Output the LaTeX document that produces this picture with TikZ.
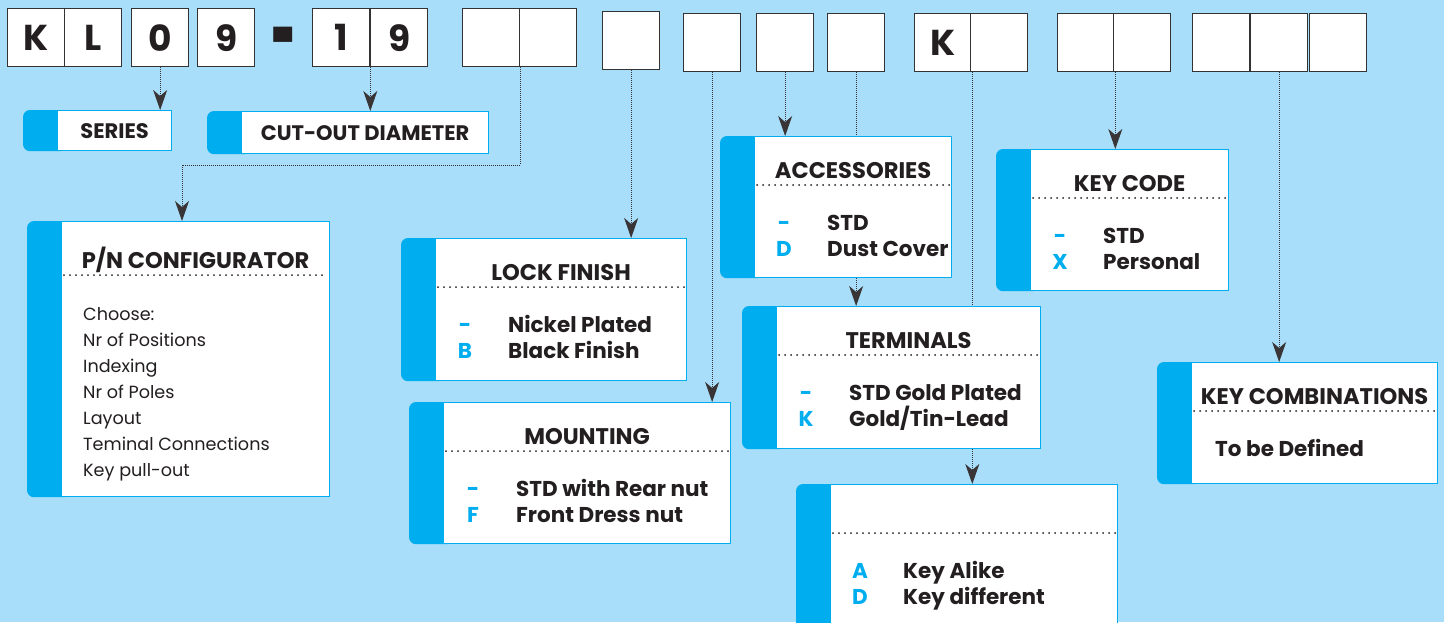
\documentclass[tikz,border=0pt]{standalone}
\usepackage{fontspec}
\setmainfont{Poppins}
\usetikzlibrary{arrows.meta,positioning,calc,backgrounds}
\definecolor{skyback}{HTML}{A8DEF9}
\definecolor{keyblue}{HTML}{00AEEF}
\definecolor{inkdark}{HTML}{231F20}
\begin{document}
\begin{tikzpicture}[x=1pt, y=-1pt, >={Stealth[length=20pt,width=14pt,inset=6pt]},
  every node/.style={font=\bfseries\fontsize{21.5}{26}\selectfont, text=inkdark, inner sep=0pt},
  cell/.style={draw=black!80, line width=1.3pt, fill=white, anchor=north west, minimum width=57pt, minimum height=58pt, font=\bfseries\fontsize{36}{36}\selectfont},
  panel/.style={draw=keyblue, line width=1.2pt, fill=white, anchor=north west},
  title/.style={anchor=base, font=\bfseries\fontsize{22.6}{26}\selectfont},
  tag/.style={font=\bfseries\fontsize{21}{26}\selectfont},
  code/.style={anchor=base, text=keyblue},
  choice/.style={anchor=base west},
  plain/.style={anchor=base west, font=\fontsize{17.6}{22}\selectfont},
  dots/.style={draw=inkdark, line width=2pt, line cap=round, dash pattern=on 0pt off 6pt},
  link/.style={draw=inkdark!90, line width=1pt, densely dotted},
  linkarrow/.style={link, ->}]
\useasboundingbox (0,0) rectangle (1444,622);
% part number cells
\foreach \n/\x/\y/\t in {1/7/8/K, 2/64/8/L, 3/131/8/0, 4/197/8/9, 5/312/8/1, 6/370/8/9, 7/462/8/, 8/519/8/, 9/602/11/, 10/683/13/, 11/756/13/, 12/827/13/, 13/914/13/K, 14/970/13/, 15/1057/13/, 16/1113/13/, 17/1192/13/, 18/1250/13/, 19/1309/13/}
  \node[cell] (c\n) at (\x,\y) {\t};
\node (dash) at (284,50) {\scalebox{2}[5]{-}};
% option panels
\node[panel, minimum width=114pt, minimum height=40pt, tag] (series) at (57,110) {SERIES};
\node[panel, minimum width=247pt, minimum height=42pt, tag] (cutout) at (241,111) {CUT-OUT DIAMETER};
\node[panel, minimum width=268pt, minimum height=275pt] (pncfg) at (61,221) {};
\node[panel, minimum width=251pt, minimum height=142pt] (lock) at (435,238) {};
\node[panel, minimum width=287pt, minimum height=141pt] (mount) at (443,402) {};
\node[panel, minimum width=197pt, minimum height=141pt] (acc) at (754,136) {};
\node[panel, minimum width=264pt, minimum height=142pt] (term) at (776,306) {};
\node[panel, minimum width=287pt, minimum height=150pt] (alike) at (830,484) {};
\node[panel, minimum width=198pt, minimum height=141pt] (keycode) at (1030,149) {};
\node[panel, minimum width=246pt, minimum height=121pt] (combo) at (1191,362) {};
% titles and dotted rules
\node[title] (pncfg-t) at ($(pncfg.north)+(0,47)$) {P/N CONFIGURATOR};
\foreach \p/\t in {lock/LOCK FINISH, mount/MOUNTING, acc/ACCESSORIES, term/TERMINALS, keycode/KEY CODE, combo/KEY COMBINATIONS}
  \node[title] (\p-t) at ($(\p.north)+(0,42)$) {\t};
\draw[dots] ($(pncfg.north west)+(3,54)$) -- ($(pncfg.north east)+(-3,54)$);
\foreach \p in {lock, mount, acc, term, alike, keycode, combo}
  \draw[dots] ($(\p.north west)+(3,49)$) -- ($(\p.north east)+(-3,49)$);
% panel contents
\foreach \t [count=\k] in {Choose:, Nr of Positions, Indexing, Nr of Poles, Layout, Teminal Connections, Key pull-out}
  \node[plain] (pncfg-\k) at ($(pncfg.north west)+(22,{99+26.1*(\k-1)})$) {\t};
\foreach \p/\a/\b/\c/\d in {lock/-/Nickel Plated/B/Black Finish, mount/-/STD with Rear nut/F/Front Dress nut, acc/-/STD/D/Dust Cover, term/-/STD Gold Plated/K/{Gold/Tin-Lead}, alike/A/Key Alike/D/Key different, keycode/-/STD/X/Personal}{
  \node[code] (\p-c1) at ($(\p.north west)+(30,94)$) {\a};
  \node[choice] (\p-o1) at ($(\p.north west)+(73,94)$) {\b};
  \node[code] (\p-c2) at ($(\p.north west)+(30,120)$) {\c};
  \node[choice] (\p-o2) at ($(\p.north west)+(73,120)$) {\d};
}
\node[choice] (combo-o1) at ($(combo.north west)+(24,94)$) {To be Defined};
% connectors
\draw[linkarrow] (c3.south) -- (c3.south |- series.north);
\draw[linkarrow] (c5.south east) -- (c5.south east |- cutout.north);
\draw[linkarrow] (c7.south east) -- ++(0,98) -| ($(pncfg.north west)+(121,0)$);
\draw[linkarrow] (c9.south) -- (c9.south |- lock.north);
\draw[linkarrow] (c10.south) -- (c10.south |- mount.north);
\draw[linkarrow] (c11.south) -- (c11.south |- acc.north);
\draw[link] (c12.south) -- (c12.south |- acc.north);
\draw[linkarrow] (c12.south |- acc.south) -- (c12.south |- term.north);
\draw[link] (c13.south east) -- (c13.south east |- term.north);
\draw[linkarrow] (c13.south east |- term.south) -- (c13.south east |- alike.north);
\draw[linkarrow] (c15.south east) -- (c15.south east |- keycode.north);
\draw[linkarrow] (c18.south) -- (c18.south |- combo.north);
% background and blue strips
\begin{scope}[on background layer]
  \fill[skyback] (0,0) rectangle (1444,622);
  \foreach \p in {series, cutout, pncfg, lock, mount, acc, term, alike, keycode, combo}
    \fill[keyblue, rounded corners=7pt] ($(\p.north west)+(-34,0)$) rectangle ($(\p.south west)+(10,0)$);
\end{scope}
\end{tikzpicture}
\end{document}
